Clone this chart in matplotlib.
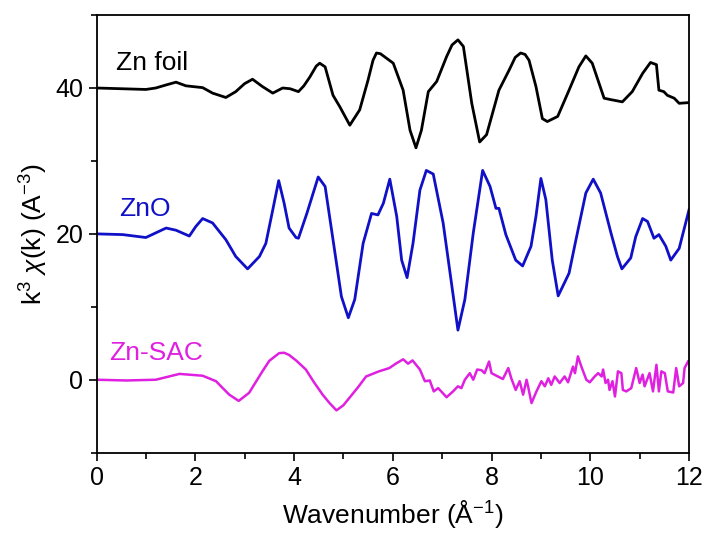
import numpy as np
import matplotlib
matplotlib.use("Agg")
import matplotlib.pyplot as plt
from matplotlib.ticker import MultipleLocator

plt.rcParams["font.family"] = ["Liberation Sans", "DejaVu Sans"]
plt.rcParams["mathtext.fontset"] = "custom"
plt.rcParams["mathtext.rm"] = "Liberation Sans"
plt.rcParams["mathtext.it"] = "Liberation Sans:italic"

# Zn foil (offset +40)
k_foil = [0.0, 0.5, 1.0, 1.2, 1.4, 1.61, 1.81, 2.15, 2.35, 2.62, 2.82, 3.0, 3.16, 3.36, 3.57,
          3.77, 3.92, 4.09, 4.2, 4.32, 4.45, 4.52, 4.63, 4.79, 4.93, 5.13, 5.33, 5.50, 5.6,
          5.67, 5.75, 5.87, 6.01, 6.21, 6.35, 6.47, 6.58, 6.72, 6.89, 7.09, 7.2, 7.32, 7.43,
          7.60, 7.76, 7.90, 8.15, 8.36, 8.48, 8.59, 8.68, 8.76, 8.90, 9.03, 9.13, 9.34,
          9.57, 9.77, 9.91, 10.04, 10.28, 10.42, 10.65, 10.85, 11.06, 11.22, 11.34, 11.39,
          11.49, 11.56, 11.70, 11.80, 12.0]
chi_foil = [40.0, 39.9, 39.8, 40.0, 40.4, 40.8, 40.3, 40.05, 39.3, 38.7, 39.5, 40.6, 41.2,
            40.2, 39.3, 40.0, 39.9, 39.5, 40.3, 41.5, 43.0, 43.4, 42.9, 39.0, 37.4, 34.9,
            37.0, 41.1, 43.8, 44.8, 44.7, 44.1, 43.4, 39.7, 34.2, 31.8, 34.2, 39.5, 40.9,
            44.3, 45.9, 46.6, 45.7, 37.9, 32.6, 33.6, 39.7, 42.5, 44.2, 44.8, 44.6, 43.8,
            40.2, 35.8, 35.4, 36.1, 39.7, 42.9, 44.4, 43.4, 38.6, 38.4, 38.1, 39.5, 42.0,
            43.5, 43.2, 39.7, 39.5, 39.0, 38.6, 37.9, 38.0]

# ZnO (offset +20)
k_zno = [0.0, 0.53, 1.0, 1.41, 1.61, 1.88, 2.01, 2.15, 2.35, 2.62, 2.82, 3.06, 3.30, 3.43,
         3.57, 3.69, 3.80, 3.90, 4.04, 4.09, 4.26, 4.49, 4.63, 4.79, 4.96, 5.10, 5.23,
         5.40, 5.57, 5.70, 5.81, 5.94, 6.08, 6.18, 6.29, 6.41, 6.55, 6.68, 6.82, 7.02,
         7.19, 7.32, 7.46, 7.63, 7.82, 7.97, 8.09, 8.15, 8.29, 8.49, 8.63, 8.80, 8.90,
         9.00, 9.10, 9.23, 9.35, 9.57, 9.71, 9.91, 10.06, 10.21, 10.42, 10.55, 10.64,
         10.82, 10.92, 11.06, 11.16, 11.29, 11.39, 11.53, 11.63, 11.80, 12.0]
chi_zno = [20.0, 19.9, 19.5, 20.8, 20.5, 19.7, 21.0, 22.1, 21.5, 19.2, 16.9, 15.2, 16.9, 18.7,
           23.3, 27.3, 24.2, 20.8, 19.5, 19.4, 22.8, 27.8, 26.5, 19.2, 11.4, 8.5, 11.0,
           18.7, 22.8, 22.6, 24.2, 27.5, 22.4, 16.4, 14.0, 18.7, 26.0, 28.7, 28.2, 21.5,
           13.2, 6.8, 11.0, 20.1, 28.7, 26.5, 23.5, 23.5, 19.9, 16.4, 15.6, 18.3, 22.4,
           27.6, 24.7, 16.4, 11.5, 14.6, 19.2, 25.6, 27.5, 25.6, 20.1, 16.9, 15.2,
           16.7, 19.6, 22.1, 21.7, 19.4, 19.9, 18.3, 16.4, 18.0, 23.3]

# Zn-SAC
k_sac = [0.0, 0.6, 1.2, 1.68, 2.15, 2.42, 2.55, 2.69, 2.88, 3.09, 3.36, 3.5, 3.70, 3.8, 3.90,
         4.05, 4.24, 4.4, 4.58, 4.72, 4.86, 5.0, 5.12, 5.3, 5.46, 5.72, 5.93, 6.06, 6.21,
         6.31, 6.40, 6.55, 6.65, 6.75, 6.83, 6.92, 7.09, 7.22, 7.32, 7.39, 7.46, 7.56,
         7.63, 7.71, 7.80, 7.86, 7.95, 8.00, 8.10, 8.23, 8.34, 8.40, 8.49, 8.57, 8.64,
         8.71, 8.74, 8.81, 8.91, 9.01, 9.08, 9.15, 9.21, 9.28, 9.38, 9.48, 9.55, 9.65,
         9.69, 9.75, 9.82, 9.92, 9.99, 10.09, 10.16, 10.23, 10.26, 10.31, 10.36, 10.39,
         10.45, 10.50, 10.56, 10.63, 10.66, 10.73, 10.83, 10.93, 11.00, 11.06, 11.10,
         11.20, 11.27, 11.34, 11.39, 11.44, 11.51, 11.57, 11.68, 11.74, 11.80, 11.88,
         11.91, 11.98]
chi_sac = [0.0, -0.1, 0.0, 0.8, 0.55, -0.2, -1.1, -2.05, -2.9, -1.8, 1.15, 2.6, 3.65, 3.7,
           3.4, 2.6, 1.4, -0.3, -2.05, -3.2, -4.2, -3.5, -2.5, -1.0, 0.45, 1.15, 1.6, 2.2,
           2.8, 2.2, 2.65, 1.4, -0.2, -0.1, -1.6, -1.15, -2.4, -1.6, -0.9, -1.15, 0.0,
           0.9, 0.0, 1.4, 1.3, 0.9, 2.5, 0.9, 0.55, 0.1, 1.6, 0.2, -1.4, -0.2, -2.05,
           0.0, -0.9, -3.2, -1.6, -0.2, -0.9, 0.2, -0.7, 0.45, -0.45, 0.45, -0.35, 1.8,
           0.9, 3.2, 1.8, 0.0, -0.35, 0.45, 0.9, 0.45, 1.4, -0.45, 0.0, -1.4, -0.2, -2.3,
           1.15, 0.9, -1.4, -1.6, -1.15, 1.6, -0.45, 0.7, -0.9, 0.9, -1.6, 2.05, -1.6,
           1.15, 0.9, -1.6, -1.75, 1.6, -0.9, -0.45, 1.6, 2.5]

labels = ["Zn foil", "ZnO", "Zn-SAC"]
colors = ["black", "#1010c8", "#e020e0"]

fig = plt.figure(figsize=(7.08, 5.38), dpi=100)
ax = fig.add_axes([0.1363, 0.1586, 0.8369, 0.8134])

ax.plot(k_foil, chi_foil, color=colors[0], lw=2.0)
ax.plot(k_zno, chi_zno, color=colors[1], lw=2.0)
ax.plot(k_sac, chi_sac, color=colors[2], lw=1.8)

ax.text(0.39, 42.4, labels[0], color=colors[0], fontsize=19, va="baseline")
ax.text(0.45, 22.4, labels[1], color=colors[1], fontsize=19, va="baseline")
ax.text(0.26, 2.7, labels[2], color=colors[2], fontsize=19, va="baseline")

ax.set_xlim(0, 12)
ax.set_ylim(-10, 50)
ax.xaxis.set_major_locator(MultipleLocator(2))
ax.xaxis.set_minor_locator(MultipleLocator(1))
ax.yaxis.set_major_locator(MultipleLocator(20))
ax.yaxis.set_minor_locator(MultipleLocator(10))
ax.tick_params(which="both", direction="out", top=False, right=False, width=1.2,
               labelsize=18)
ax.tick_params(which="major", length=6)
ax.tick_params(which="minor", length=4)
for sp in ax.spines.values():
    sp.set_linewidth(1.3)

ax.set_xlabel("Wavenumber (Å$^{-1}$)", fontsize=19, labelpad=6)
ax.set_ylabel("k$^{3}$ $\\chi$(k) (A$^{-3}$)", fontsize=19, labelpad=4)

fig.savefig("out.png", dpi=100)
